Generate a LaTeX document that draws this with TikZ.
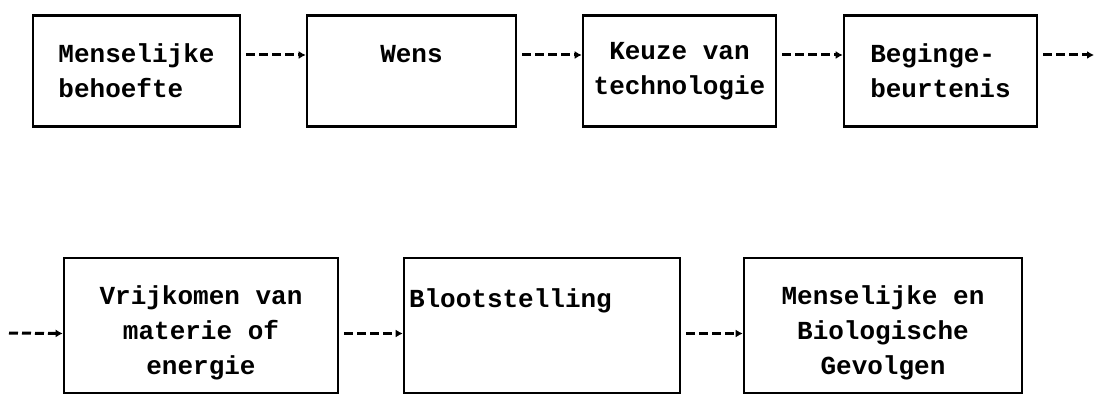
\documentclass[tikz,border=0pt]{standalone}
\usepackage{fontspec}
\setmonofont{Liberation Mono}
\usetikzlibrary{arrows.meta,positioning}

\newcommand{\topgap}{\rule{0pt}{34pt}}

\begin{document}
\begin{tikzpicture}[
      x=1pt, y=-1pt,
      font=\ttfamily\bfseries\fontsize{26}{35}\selectfont,
      node distance=64pt,
      box/.style={draw, line width=2.6pt, align=center, inner sep=4pt, minimum height=111pt},
      tall/.style={box, minimum height=135pt},
      flow/.style={line width=3pt, dash pattern=on 9pt off 4pt, shorten <=5pt, -{Latex[length=7pt,width=8pt]}}
    ]
    \useasboundingbox (0,0) rectangle (1096,395);

    % Row 1
    \node[box, align=left, minimum width=207pt] (behoefte) at (136.5,71) {Menselijke\\behoefte};
    \node[box, minimum width=209pt, right=64.4pt of behoefte] (wens) {Wens\\\mbox{}};
    \node[box, minimum width=193pt, right=64.4pt of wens] (keuze) {Keuze van\\technologie};
    \node[box, align=left, minimum width=193pt, right=65.4pt of keuze] (begin) {Beginge-\\beurtenis};
    \coordinate (uit) at (1094,55);
    \draw[flow] ([yshift=16pt]behoefte.east) -- ([yshift=16pt]wens.west);
    \draw[flow] ([yshift=16pt]wens.east) -- ([yshift=16pt]keuze.west);
    \draw[flow] ([yshift=16pt]keuze.east) -- ([yshift=16pt]begin.west);
    \draw[flow] ([yshift=16pt]begin.east) -- (uit);

    % Row 2
    \coordinate (links) at (4,333);
    \node[tall, minimum width=274pt] (vrijkomen) at (201,325.5) {\topgap Vrijkomen van\\materie of\\energie};
    \node[tall, align=left, text width=266pt, inner xsep=5pt, right=63.4pt of vrijkomen] (bloot) {\topgap Blootstelling\\\mbox{}\\\mbox{}};
    \node[tall, minimum width=278pt, right=61.4pt of bloot] (gevolgen) {\topgap Menselijke en\\Biologische\\Gevolgen};
    \draw[flow] (links) -- ([yshift=-8pt]vrijkomen.west);
    \draw[flow] ([yshift=-8pt]vrijkomen.east) -- ([yshift=-8pt]bloot.west);
    \draw[flow] ([yshift=-8pt]bloot.east) -- ([yshift=-8pt]gevolgen.west);

\end{tikzpicture}
\end{document}
